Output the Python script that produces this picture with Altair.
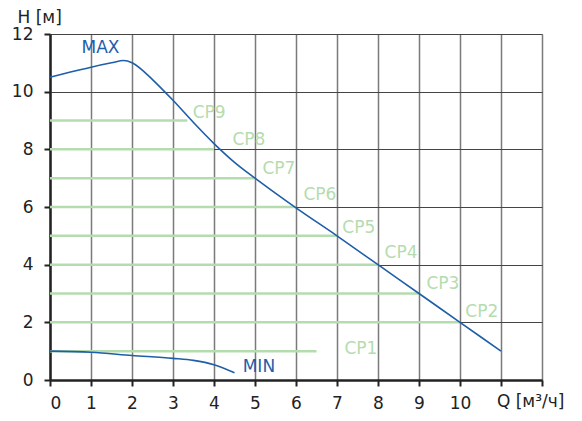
import altair as alt
import pandas as pd

# MAX curve
max_q = [0, 0.5, 1.0, 1.5, 1.8, 2.0, 2.25, 2.5, 3.0, 3.5, 4.0, 4.5, 5.0, 6.0, 7.0, 8.0, 9.0, 10.0, 11.0]
max_h = [10.5, 10.68, 10.85, 11.0, 11.08, 11.0, 10.75, 10.42, 9.7, 8.93, 8.2, 7.55, 7.0, 5.97, 5.0, 4.0, 3.0, 2.0, 1.0]
# MIN curve
min_q = [0, 1.0, 2.0, 3.0, 3.5, 4.0, 4.5]
min_h = [1.0, 0.96, 0.85, 0.75, 0.68, 0.53, 0.25]
# constant-pressure lines
cp_names = ["CP1", "CP2", "CP3", "CP4", "CP5", "CP6", "CP7", "CP8", "CP9"]
cp_h = [1, 2, 3, 4, 5, 6, 7, 8, 9]
cp_end = [6.5, 10.0, 9.0, 8.0, 7.0, 6.0, 5.0, 4.0, 3.35]
cp_lab_q = [7.18, 10.13, 9.18, 8.16, 7.13, 6.18, 5.18, 4.45, 3.48]
cp_lab_h = [1.08, 2.36, 3.33, 4.40, 5.27, 6.42, 7.32, 8.32, 9.26]
# curve labels
curve_names = ["MAX", "MIN"]
curve_lab_q = [0.77, 4.7]
curve_lab_h = [11.5, 0.45]

W, H = 492, 346
blue = "#1f5ea8"
green = "#b5dcae"
FS = 17

xs = alt.Scale(domain=[0, 12], nice=False)
ys = alt.Scale(domain=[0, 12], nice=False)

x_vals = [i * 0.5 for i in range(0, 25)]
y_vals = list(range(0, 13))

x_axis = alt.Axis(
    values=x_vals,
    labelExpr="(datum.value % 1 == 0 && datum.value <= 10) ? datum.value : ''",
    grid=True,
    gridColor="#7a7a7a",
    gridWidth=1.5,
    gridOpacity={"condition": {"test": "datum.value % 1 != 0", "value": 0}, "value": 1},
    tickSize={"condition": {"test": "datum.value % 1 != 0", "value": 3}, "value": 6},
    tickColor="#222222",
    tickWidth=2,
    domainColor="#222222",
    domainWidth=2.5,
    labelFont="DejaVu Sans",
    labelFontSize=FS,
    labelColor="#222222",
    labelPadding=9,
    title=None,
)
y_axis = alt.Axis(
    values=y_vals,
    labelExpr="datum.value % 2 == 0 ? datum.value : ''",
    grid=True,
    gridColor="#444444",
    gridWidth=1,
    gridOpacity={"condition": {"test": "datum.value % 2 != 0", "value": 0}, "value": 1},
    tickSize={"condition": {"test": "datum.value % 2 != 0", "value": 3}, "value": 6},
    tickColor="#222222",
    tickWidth=2,
    domainColor="#222222",
    domainWidth=2.5,
    labelFont="DejaVu Sans",
    labelFontSize=FS,
    labelColor="#222222",
    labelPadding=11,
    title="H [м]",
    titleAngle=0,
    titleAlign="left",
    titleBaseline="alphabetic",
    titleX=-33,
    titleY=-12,
    titleFont="DejaVu Sans",
    titleFontSize=FS,
    titleFontWeight="normal",
    titleColor="#222222",
)

df_max = pd.DataFrame({"q": max_q, "h": max_h})
df_min = pd.DataFrame({"q": min_q, "h": min_h})
df_cp = pd.DataFrame({"name": cp_names, "h": cp_h, "q0": [0] * len(cp_h), "q1": cp_end,
                      "lq": cp_lab_q, "lh": cp_lab_h})
df_cl = pd.DataFrame({"name": curve_names, "q": curve_lab_q, "h": curve_lab_h})
df_q = pd.DataFrame({"t": ["Q [м³/ч]"], "q": [10.9], "h": [-0.76]})

base_axes = alt.Chart(df_max).mark_line(opacity=0).encode(
    x=alt.X("q:Q", scale=xs, axis=x_axis),
    y=alt.Y("h:Q", scale=ys, axis=y_axis),
)

cp_lines = alt.Chart(df_cp).mark_rule(color=green, strokeWidth=2.5).encode(
    x=alt.X("q0:Q", scale=xs), x2="q1:Q", y=alt.Y("h:Q", scale=ys)
)
cp_text = alt.Chart(df_cp).mark_text(color=green, font="DejaVu Sans", fontSize=FS,
                                     align="left", baseline="middle").encode(
    x=alt.X("lq:Q", scale=xs), y=alt.Y("lh:Q", scale=ys), text="name:N"
)
max_line = alt.Chart(df_max).mark_line(color=blue, strokeWidth=1.6, interpolate="monotone").encode(
    x=alt.X("q:Q", scale=xs), y=alt.Y("h:Q", scale=ys)
)
min_line = alt.Chart(df_min).mark_line(color=blue, strokeWidth=1.6, interpolate="monotone").encode(
    x=alt.X("q:Q", scale=xs), y=alt.Y("h:Q", scale=ys)
)
curve_text = alt.Chart(df_cl).mark_text(color=blue, font="DejaVu Sans", fontSize=FS,
                                        align="left", baseline="middle").encode(
    x=alt.X("q:Q", scale=xs), y=alt.Y("h:Q", scale=ys), text="name:N"
)
q_text = alt.Chart(df_q).mark_text(color="#222222", font="DejaVu Sans", fontSize=FS,
                                   align="left", baseline="middle", clip=False).encode(
    x=alt.X("q:Q", scale=xs), y=alt.Y("h:Q", scale=ys), text="t:N"
)

chart = alt.layer(base_axes, cp_lines, cp_text, max_line, min_line, curve_text, q_text).properties(
    width=W, height=H,
    autosize=alt.AutoSizeParams(type="none"),
    padding={"left": 42, "top": 26, "right": 32, "bottom": 33},
).configure_view(stroke="#222222", strokeWidth=1.5).configure(background="white")

chart.save("out.html", embed_options={"renderer": "svg", "actions": False})
